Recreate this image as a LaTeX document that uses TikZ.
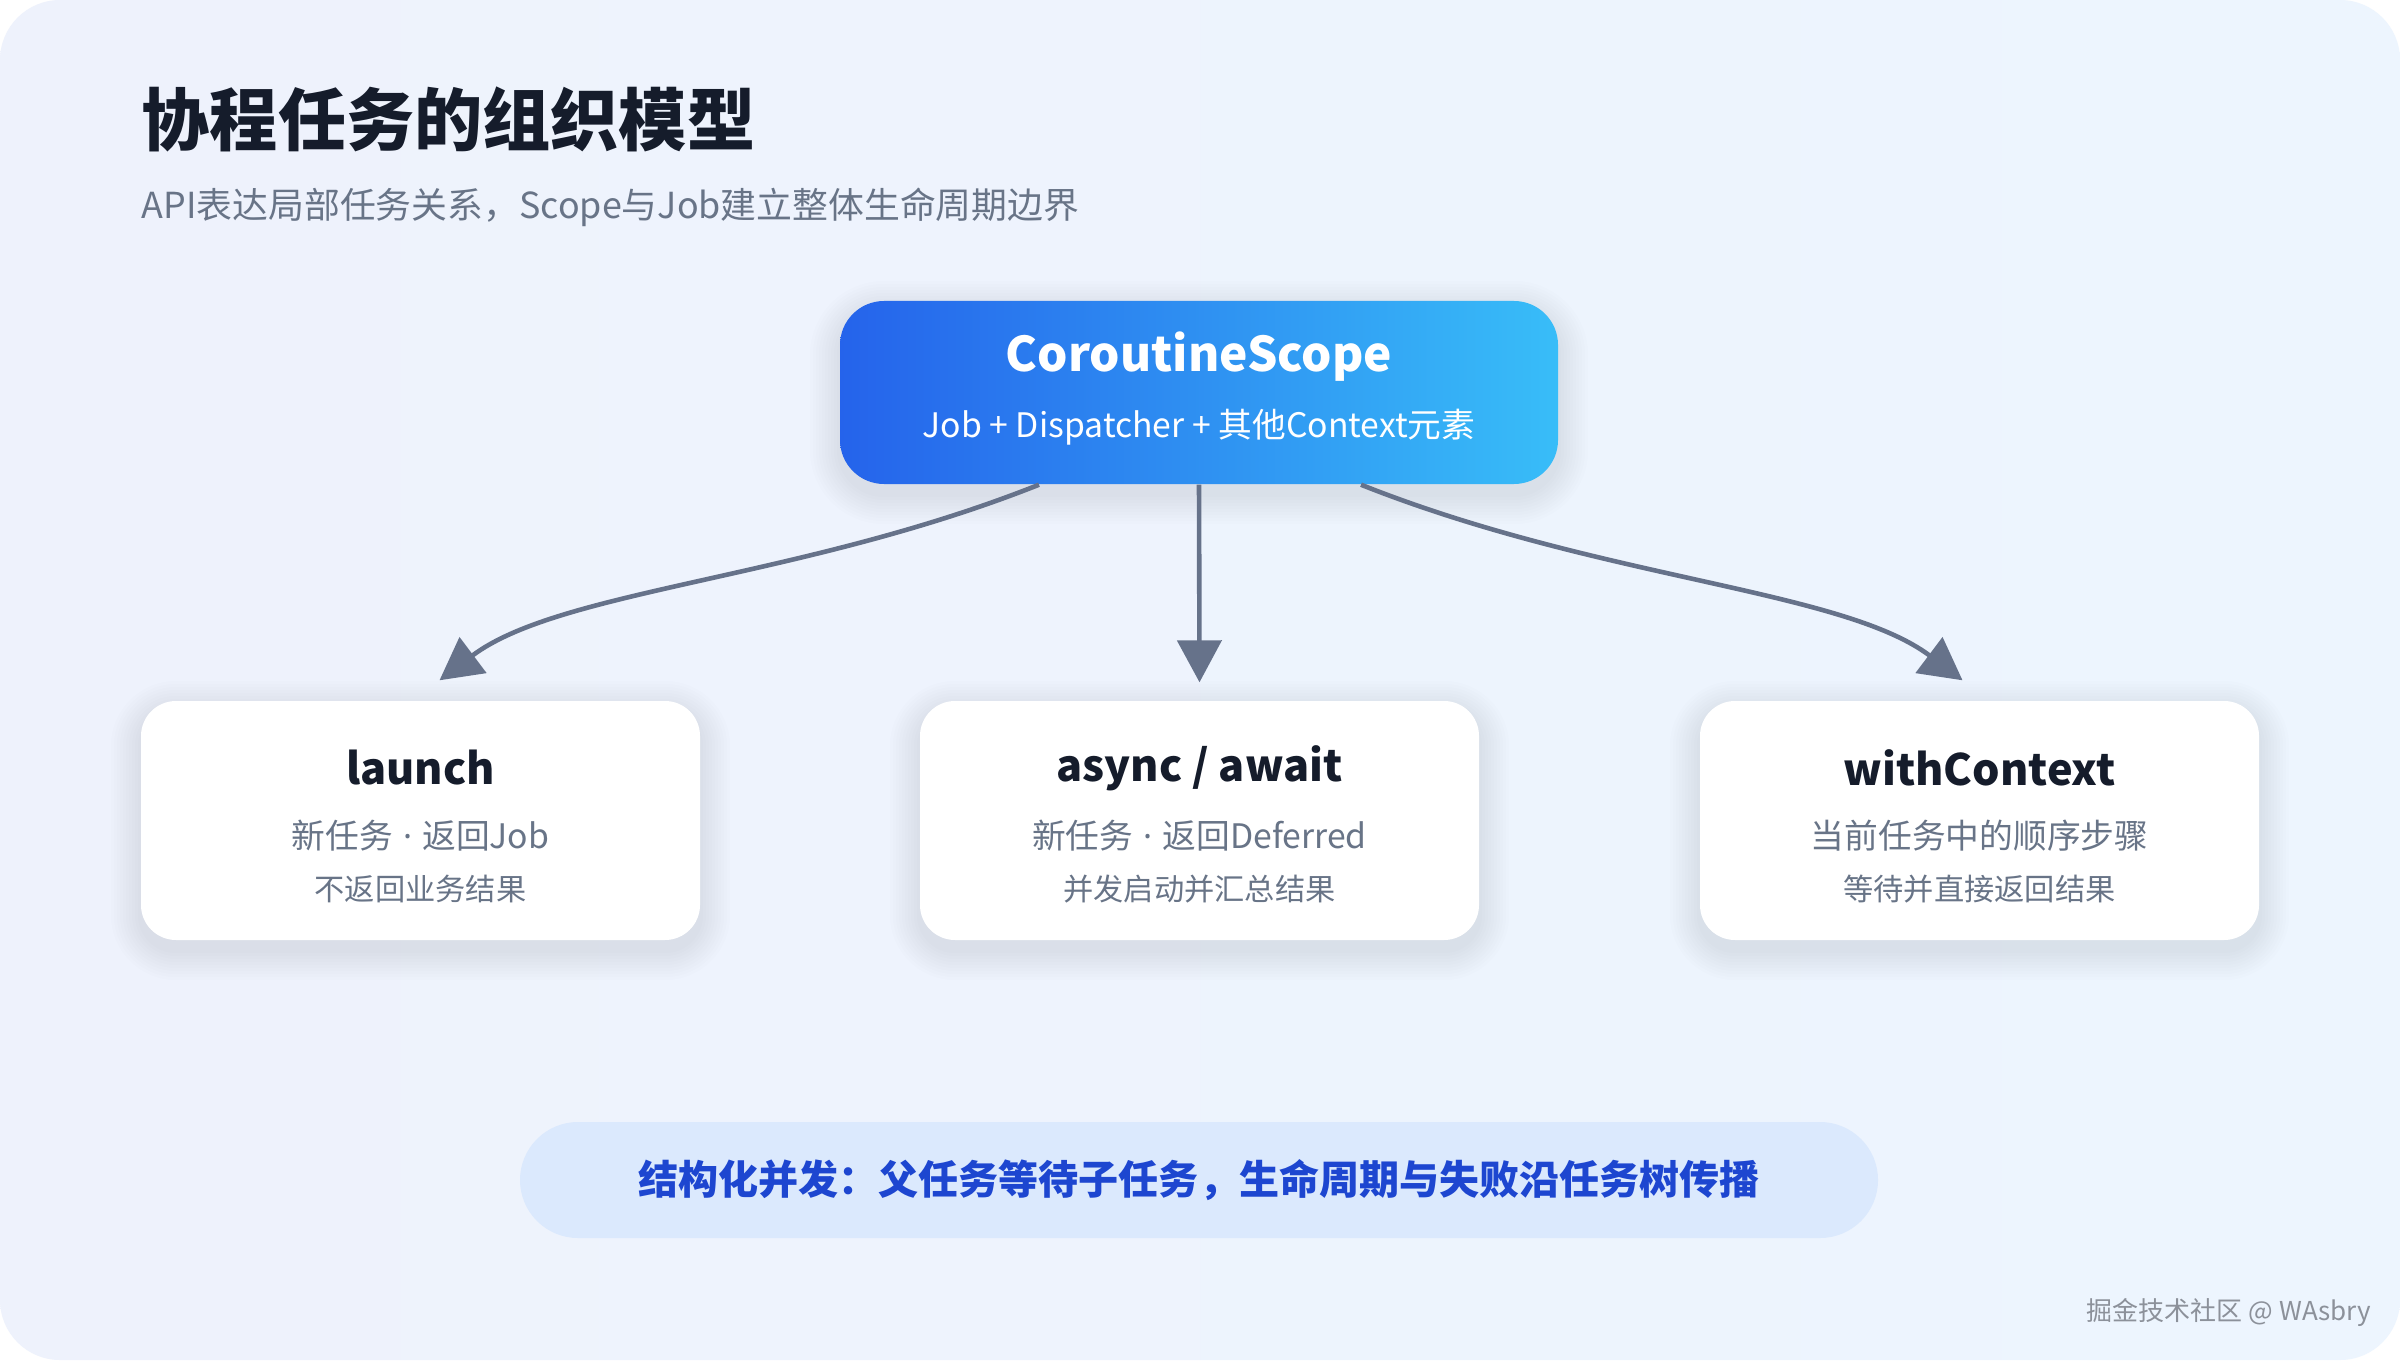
\documentclass[tikz,border=0pt]{standalone}
\usepackage{fontspec}
\setmainfont{Noto Sans CJK SC}
\newfontfamily\latinf{Noto Sans}
\usetikzlibrary{arrows.meta}
\definecolor{bgA}{HTML}{EEF2FC}
\definecolor{bgB}{HTML}{EDF5FE}
\definecolor{ink}{HTML}{151C2B}
\definecolor{sub}{HTML}{687487}
\definecolor{slate}{HTML}{66728A}
\definecolor{gA}{HTML}{2563EB}
\definecolor{gB}{HTML}{38BDF8}
\definecolor{bannerfill}{HTML}{DBE9FD}
\definecolor{bannertext}{HTML}{1D46D0}
\definecolor{wm}{HTML}{8C919A}
\definecolor{shadowc}{HTML}{4A5A8A}
\newcommand\cardshadow[5]{%
  \foreach \k in {1,...,10}{%
    \pgfmathsetmacro\rr{#5+\k*0.03}%
    \fill[shadowc, opacity=0.013, rounded corners=\rr cm]
      (#1-#3/2-\k*0.03, #2-#4/2-\k*0.03-0.1) rectangle (#1+#3/2+\k*0.03, #2+#4/2+\k*0.03-0.1);
  }}
\newcommand\dotsep{{\latinf\hspace{0.3em}·\hspace{0.3em}}}
\begin{document}
\begin{tikzpicture}[x=1cm,y=1cm,
  card/.style={draw=none, fill=white, rounded corners=0.35cm, minimum width=5.59cm, minimum height=2.39cm},
  cardtitle/.style={font=\fontsize{12.3}{15}\selectfont\bfseries, text=ink, inner sep=0pt},
  cardl1/.style={font=\fontsize{9.6}{12}\selectfont, text=sub, inner sep=0pt},
  cardl2/.style={font=\fontsize{8.6}{11}\selectfont, text=sub, inner sep=0pt},
  conn/.style={draw=slate, line width=0.046cm, -{Triangle[length=0.42cm,width=0.44cm]}}
]
\fill[white] (0,0) rectangle (24,-13.6);
\shade[left color=bgA, right color=bgB, rounded corners=0.6cm] (0,0) rectangle (24,-13.6);
\useasboundingbox (0,0) rectangle (24,-13.6);

% title
\node[anchor=west, inner sep=0pt, font=\fontsize{19.4}{24}\selectfont\bfseries, text=ink] (title) at (1.41,-1.19) {协程任务的组织模型};
\node[anchor=west, inner sep=0pt, font=\fontsize{10.2}{13}\selectfont, text=sub] (subtitle) at (1.41,-2.07) {API表达局部任务关系，Scope与Job建立整体生命周期边界};

% shadows
\cardshadow{11.99}{-3.925}{7.18}{1.83}{0.44}
\cardshadow{4.205}{-8.205}{5.59}{2.39}{0.35}
\cardshadow{11.995}{-8.205}{5.59}{2.39}{0.35}
\cardshadow{19.795}{-8.205}{5.59}{2.39}{0.35}

% top node
\node[draw=none, left color=gA, right color=gB, rounded corners=0.44cm, minimum width=7.18cm, minimum height=1.83cm] (scope) at (11.99,-3.925) {};
\node[font=\fontsize{13.6}{17}\selectfont\bfseries, text=white, inner sep=0pt] (scopeT) at (11.99,-3.57) {CoroutineScope};
\node[font=\fontsize{9.6}{12}\selectfont, text=white, inner sep=0pt] (scopeS) at (11.99,-4.27) {Job + Dispatcher + 其他Context元素};

% cards
\node[card] (launch) at (4.205,-8.205) {};
\node[cardtitle] (launchT) at (4.205,-7.68) {launch};
\node[cardl1] (launchA) at (4.205,-8.36) {新任务\dotsep 返回Job};
\node[cardl2] (launchB) at (4.205,-8.89) {不返回业务结果};

\node[card] (async) at (11.995,-8.205) {};
\node[cardtitle] (asyncT) at (11.995,-7.68) {async / await};
\node[cardl1] (asyncA) at (11.995,-8.36) {新任务\dotsep 返回Deferred};
\node[cardl2] (asyncB) at (11.995,-8.89) {并发启动并汇总结果};

\node[card] (withc) at (19.795,-8.205) {};
\node[cardtitle] (withcT) at (19.795,-7.68) {withContext};
\node[cardl1] (withcA) at (19.795,-8.36) {当前任务中的顺序步骤};
\node[cardl2] (withcB) at (19.795,-8.89) {等待并直接返回结果};

% connectors
\coordinate (lend) at ([xshift=0.19cm,yshift=0.2cm]launch.north);
\coordinate (mend) at ([yshift=0.18cm]async.north);
\coordinate (rend) at ([xshift=-0.17cm,yshift=0.2cm]withc.north);
\draw[conn] ([xshift=-1.6cm]scope.south) .. controls +(-2.39,-0.95) and +(1.21,0.91) .. (lend);
\draw[conn] (scope.south) -- (mend);
\draw[conn] ([xshift=1.62cm]scope.south) .. controls +(2.39,-0.95) and +(-1.21,0.91) .. (rend);

% banner
\node[draw=none, fill=bannerfill, rounded corners=0.58cm, minimum width=13.58cm, minimum height=1.16cm] (banner) at (11.99,-11.8) {};
\node[font=\fontsize{11.4}{14}\selectfont\bfseries, text=bannertext, inner sep=0pt] (bannerT) at (banner.center) {结构化并发：父任务等待子任务，生命周期与失败沿任务树传播};

% watermark
\node[font=\fontsize{7.4}{9}\selectfont, text=wm, inner sep=0pt] (wmark) at (22.29,-13.12) {掘金技术社区 @ WAsbry};
\end{tikzpicture}
\end{document}
